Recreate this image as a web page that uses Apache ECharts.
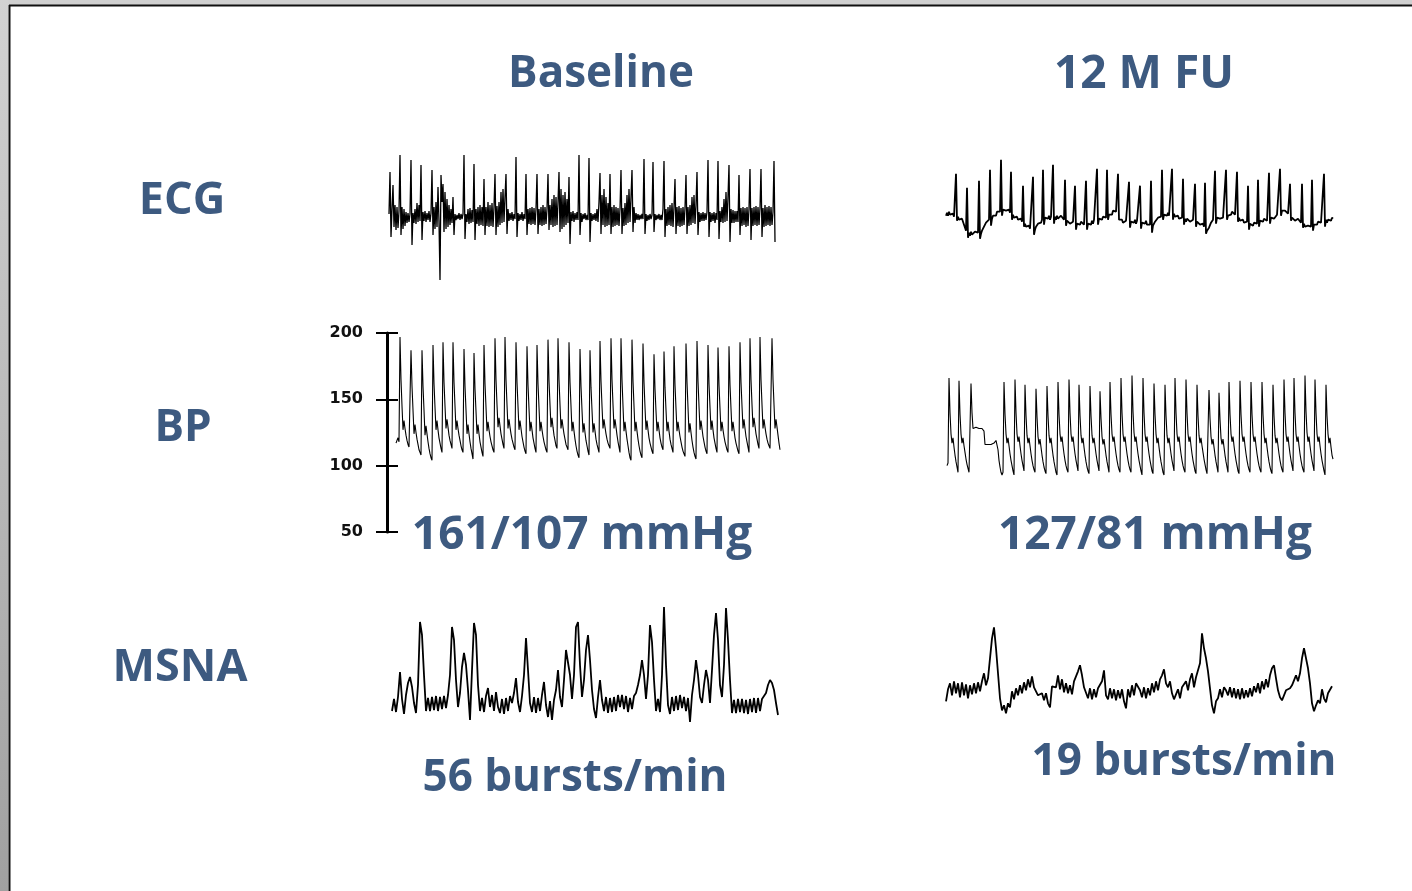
<!DOCTYPE html>
<html>
<head>
<meta charset="utf-8">
<script src="https://cdn.jsdelivr.net/npm/echarts@6/dist/echarts.min.js"></script>
<style>
html, body { margin: 0; padding: 0; background: #fff; }
#main { width: 1412px; height: 891px; }
</style>
</head>
<body>
<div id="main"></div>
<script>
// ECG, baseline / 12 M FU (amplitude, one sample per px)
var ecgBase = [3, 45, -20, 8, 32, -10, 12, -13, 10, -11, 6,
	62, -18, 10, -12, 8, -9, 5, -6, 4, -5, 3,
	57, -28, 4, -6, 8, -7, 14, -5, 12, -4,
	52, -23, 5, -4, 6, -5, 4, -3, 6, -5, 4,
	47, -18, 10, -12, 15, -10, 30, -5,
	-63, 42, 15, 33, -15, 25, -12, 18, -10, 12, -8, 8, -6,
	20, -18, 3, -3, 2, -2, 4, -3, 3, -2, 3,
	62, -22, 3, -5, 8, -7, 9, -6, 7, -5,
	53, -23, 8, -7, 10, -9, 12, -8, 10, -9,
	38, -18, 10, -9, 15, -10, 12, -9, 14, -10, 10,
	43, -18, 11, -10, 15, -8, 25, -6, 28, -5, 20,
	43, -17, 8, -4, 4, -3, 5, -4, 3, -2,
	60, -20, 4, -4, 3, -3, 5, -4, 3, -2,
	43, -18, 8, -7, 9, -8, 10, -7, 9, -8, 8,
	43, -17, 8, -8, 10, -9, 12, -8, 10, -7, 8,
	43, -13, 12, -8, 18, -10, 22, -9, 20, -8, 15,
	45, -15, 28, -12, 22, -10, 25, -8, 18, -6,
	40, -27, 5, -4, 6, -5, 4, -3, 5, -3,
	62, -18, 4, -5, 3, -2, 4, -3, 2, -3,
	59, -25, 4, -4, 3, -3, 4, -4, 8, -5, 15,
	44, -17, 22, -8, 28, -10, 20, -9, 14, -8,
	43, -17, 10, -10, 12, -9, 10, -8, 9, -9, 8,
	47, -17, 9, -9, 14, -8, 22, -6, 28, -5, 20,
	47, -15, 10, -6, 4, -3, 3, -3, 2, -2, 3, -2,
	58, -17, 3, -4, 2, -3, 3, -2, 2,
	55, -15, 3, -3, 2, -2, 3, -3, 2, -3, 8,
	56, -20, 8, -9, 10, -8, 12, -9, 14, -10, 10,
	38, -17, 10, -9, 11, -10, 9, -9, 10, -8, 9,
	42, -17, 10, -9, 12, -8, 20, -6, 22, -7, 12,
	45, -18, 5, -5, 4, -4, 5, -4, 4, -3, 5,
	57, -20, 5, -5, 4, -4, 5, -6, 4, -3,
	56, -22, 6, -5, 10, -6, 18, -5, 25, -4, 20,
	52, -25, 8, -6, 7, -6, 6, -5, 6, -5,
	42, -18, 9, -9, 10, -8, 9, -10, 10, -9, 8,
	48, -23, 9, -9, 10, -8, 11, -9, 10, -8, 9,
	48, -20, 9, -10, 12, -9, 10, -8, 11, -9, 10, -8, 5,
	56, -25];
var ecgFU = [6, 9, 6, 10, 7, 9, 6, 8, 5, 7,
	48, 1, 5, 2, 4, 1, 3, 0, -3, -6, -9,
	34, -16, -11, -14, -10, -13, -11, -14, -10, -12, -9, -11,
	41, -17, -12, -9, -7, -5, -3, -1, 1, -2, 2,
	52, -4, 3, 6, 4, 8, 6, 10, 8, 12, 10,
	62, 6, 12, 10, 14, 11, 13, 10, 12, 9,
	50, 2, 7, 4, 6, 3, 5, 2, 4, 1, 3, 0,
	36, -5, -2, -5, -3, -6, -4, -7, -5, -8,
	45, -13, -8, -5, -6, -2, -3, 0, -1, 2,
	52, -3, 4, 2, 5, 3, 6, 2, 5, 3,
	57, -2, 5, 2, 6, 3, 5, 2, 6, 4, 5, 2,
	42, -4, 1, -1, 2, -2, 0, -3, 0, -2,
	36, -8, -2, -4, -1, -3, 0, -2, 1, -3, -1,
	41, -8, -2, -4, -1, -3, 1, -2, 2, 0, 3,
	53, -3, 3, 1, 4, 2, 5, 3, 6, 4,
	52, 2, 7, 5, 9, 7, 11, 9, 12, 10, 11,
	48, 2, 3, 0, 2, -1, 1, -2, 1, -1, 1,
	40, -6, 0, -2, 1, -1, 2, -2, 1, -1, 0,
	36, -7, -1, -3, 0, -2, 1, -3, -1, -4, -3,
	41, -11, -4, -2, 0, 2, 1, 4, 3, 6, 5,
	52, 2, 7, 5, 8, 6, 9, 6, 8, 5,
	53, 2, 8, 5, 7, 4, 6, 3, 5, 2, 4,
	43, -3, 3, 0, 3, 1, 3, 0, 2, -1, 2, 0,
	38, -5, 0, -2, 1, -3, -1, -4, -2, -5,
	39, -12, -9, -11, -6, -4, -1, 0, 2, 1,
	51, -2, 4, 2, 5, 3, 5, 2, 4, 3, 5,
	52, 2, 6, 5, 8, 7, 10, 8, 9, 7, 6,
	50, 0, 4, 1, 3, 1, 2, -1, 1, -2, 0,
	36, -8, -2, -4, -2, -4, -1, -3, 0, -2,
	42, -5, 1, -1, 2, 0, 3, 1, 3, 1, 2,
	49, -2, 4, 2, 5, 3, 5, 4, 7, 6, 9,
	53, 6, 11, 9, 13, 11, 12, 9, 8, 6,
	38, 1, 4, 2, 4, 1, 3, 0, 3, 1, 2, -1,
	38, -6, -2, -5, -3, -6, -4, -6, -3, -5,
	42, -9, -3, -5, -2, -3, 0, -2, 1, -1, 1, -1,
	48, -5, 2, -1, 2, 0, 3, 1, 4, 3];

// BP in mmHg (one sample per px)
var bpBase = [117, 117, 121, 118,
	197, 165, 145, 127, 134, 128, 123, 119, 116, 114, 113,
	187, 160, 142, 124, 131, 125, 120, 116, 112, 110, 108,
	187, 160, 142, 123, 130, 124, 118, 113, 109, 106, 104,
	191, 162, 144, 127, 134, 127, 121, 117, 113, 110,
	193, 163, 145, 128, 135, 129, 123, 119, 116, 113,
	193, 163, 145, 127, 134, 128, 123, 119, 115, 112, 110,
	188, 160, 142, 124, 131, 124, 118, 113, 109, 105,
	185, 158, 141, 124, 131, 124, 118, 114, 110, 107,
	191, 162, 144, 126, 133, 127, 122, 118, 115, 112, 110,
	196, 165, 146, 129, 136, 130, 124, 120, 116, 113,
	197, 165, 146, 128, 135, 129, 124, 120, 117, 114, 112,
	193, 163, 145, 127, 134, 128, 122, 118, 114, 111, 109,
	190, 161, 143, 126, 133, 127, 121, 117, 113, 110,
	191, 162, 144, 126, 133, 127, 122, 118, 115, 112, 110,
	195, 164, 146, 129, 136, 129, 123, 119, 115, 113,
	196, 165, 146, 128, 135, 129, 124, 120, 116, 114, 112,
	193, 163, 145, 126, 133, 126, 120, 115, 111, 108, 106,
	188, 160, 142, 125, 132, 125, 119, 115, 111, 108,
	187, 159, 142, 125, 132, 126, 120, 116, 113, 110,
	194, 164, 145, 128, 135, 129, 124, 120, 117, 115, 113,
	196, 165, 146, 128, 135, 129, 123, 118, 114, 110,
	196, 165, 145, 126, 133, 126, 120, 115, 110, 106, 104,
	195, 164, 145, 126, 133, 126, 120, 115, 111, 108, 106,
	192, 163, 144, 127, 134, 127, 121, 117, 114, 111, 109,
	184, 158, 141, 126, 133, 127, 121, 117, 114, 112,
	186, 159, 142, 126, 133, 126, 120, 116, 113, 110,
	190, 161, 143, 126, 133, 127, 122, 118, 114, 111, 109, 107,
	192, 163, 144, 125, 132, 125, 119, 114, 110, 107, 105,
	194, 164, 145, 127, 134, 128, 122, 118, 114, 111, 109,
	191, 162, 144, 127, 134, 127, 121, 117, 113, 110,
	189, 161, 143, 126, 133, 127, 122, 118, 115, 112, 110,
	190, 161, 143, 126, 133, 127, 121, 117, 114, 111, 109,
	193, 163, 145, 128, 135, 128, 122, 118, 114, 110,
	196, 165, 146, 129, 136, 130, 124, 120, 116, 113,
	197, 165, 146, 128, 135, 129, 124, 120, 117, 115, 113, 112,
	196, 165, 146, 128, 135, 129, 123, 117, 112];
var bpFU = [100, 102,
	166, 140, 124, 117, 121, 114, 108, 103, 99, 95,
	164, 139, 124, 117, 121, 115, 110, 105, 101, 98, 95, 94,
	162, 140, 128, 129, 128, 129, 128, 129, 128, 129, 128, 128, 127, 126,
	116, 116, 117, 116, 116, 115, 116, 116, 117, 117, 118, 119, 118, 112, 104, 99, 95, 93, 95,
	163, 139, 124, 117, 121, 115, 109, 104, 100, 96, 93,
	165, 140, 124, 118, 122, 115, 109, 104, 100, 96,
	161, 138, 123, 117, 121, 115, 109, 104, 100, 97, 95,
	158, 137, 122, 116, 120, 114, 108, 103, 99, 96, 94,
	160, 138, 123, 117, 121, 114, 108, 103, 99, 95, 93,
	163, 139, 124, 118, 122, 115, 109, 104, 100, 97, 95,
	165, 140, 124, 118, 122, 115, 109, 104, 100, 96,
	161, 138, 123, 117, 121, 114, 108, 103, 99, 96, 94,
	160, 138, 123, 117, 121, 115, 109, 104, 100, 96,
	156, 136, 122, 116, 120, 114, 108, 103, 99, 95,
	163, 139, 124, 118, 122, 115, 109, 104, 100, 97, 95,
	166, 140, 124, 118, 122, 115, 109, 104, 100, 97, 95,
	168, 141, 125, 118, 122, 115, 109, 104, 100, 96, 93,
	166, 140, 124, 118, 122, 115, 109, 104, 100, 96, 94,
	162, 139, 124, 117, 121, 114, 108, 103, 99, 95, 93,
	161, 138, 123, 117, 121, 115, 109, 104, 100, 96,
	166, 140, 124, 118, 122, 115, 109, 104, 100, 97, 95,
	165, 140, 124, 118, 122, 115, 109, 104, 100, 96, 94,
	161, 138, 123, 117, 121, 115, 110, 105, 101, 97, 94, 93,
	157, 136, 122, 116, 120, 114, 108, 103, 99, 95,
	155, 135, 121, 116, 120, 114, 108, 103, 99, 95,
	163, 139, 124, 118, 122, 115, 109, 104, 100, 96, 94,
	164, 139, 124, 118, 122, 115, 109, 104, 100, 97, 95,
	163, 139, 124, 118, 122, 115, 109, 104, 100, 97, 95,
	163, 139, 124, 117, 121, 114, 108, 103, 99, 96, 94,
	161, 138, 123, 117, 121, 115, 109, 104, 100, 97, 95,
	165, 140, 124, 118, 122, 115, 109, 104, 100, 96,
	166, 140, 124, 118, 122, 115, 109, 104, 100, 97, 95,
	168, 141, 125, 118, 122, 115, 109, 104, 100, 96,
	165, 140, 124, 118, 122, 115, 109, 104, 100, 96, 93,
	161, 138, 124, 117, 121, 114, 108, 105];
var bpTicks = [50, 100, 150, 200];

// MSNA (amplitude, one sample per 2 px)
var msnaBase = [-6, 6, -7, 8, 33, 6, -9, 10, 22, 28,
	18, 2, -8, 20, 83, 70, 30, -6, 7, -6,
	8, -5, 9, -6, 8, -4, 9, -3, 10, 30,
	78, 65, 25, -2, 12, 38, 52, 40, 15, -15,
	35, 82, 70, 20, -6, 7, -7, 9, 17, -2,
	10, -6, 13, -2, -8, 6, -9, 7, -6, 9,
	2, 12, 27, 3, -7, 9, 30, 67, 35, 2,
	-7, 8, -8, 7, -6, 10, 23, 0, -12, 4,
	-15, 5, 15, 35, 8, -2, 25, 55, 57, 30,
	6, 30, 78, 83, 40, 8, 25, 55, 70, 45,
	15, -4, -13, 8, 25, 5, -6, 8, -8, 7,
	-7, 8, -6, 10, -2, 10, -4, 9, -7, 7,
	-4, 9, 12, 20, 30, 45, 30, 6, 30, 80,
	63, 25, -6, 6, -7, 30, 98, 40, 0, -9,
	8, -6, 9, -5, 10, -3, 8, -6, 7, -17,
	10, 25, 45, 30, 8, 2, 20, 35, 25, 2,
	35, 70, 92, 65, 20, 8, 40, 97, 65, 25,
	-8, 5, -8, 6, -7, 6, -8, 5, -9, 6,
	-7, 7, -8, 7, -6, 6, 8, 12, 20, 25,
	22, 15, 2, -10];
var msnaFU = [-8, 4, 10, -2, 12, 0, 10, -4, 11, -2,
	9, -5, 8, -1, 10, 0, 11, 2, 12, 20,
	8, 15, 35, 55, 66, 45, 20, -5, -17, -12,
	-20, -10, -14, 2, -6, 5, -2, 8, 0, 11,
	3, 14, 6, 17, 6, 6, -2, -1, 0, -7,
	0, -10, -14, 7, 8, 6, 18, 4, 14, 1,
	10, 0, 8, -1, 12, 14, 22, 28, 18, 6,
	4, -5, 5, -6, 4, -4, 5, 3, 12, 23,
	-2, -6, 5, -5, 4, -7, 3, -5, 4, -8,
	-15, 4, -4, 8, -2, 10, 12, 3, -4, 6,
	-5, 5, -2, 10, 1, 12, 3, 14, 18, 24,
	10, 6, 12, 0, -6, -8, 4, -5, 6, 4,
	12, 3, 14, 20, 6, 16, 18, 30, 60, 45,
	35, 22, 5, -12, -20, -8, -5, 4, -4, 6,
	3, -2, 6, -4, 5, -5, 4, -6, 5, -5,
	3, -4, 5, -3, 7, 1, 10, 0, 12, 4,
	14, 6, 18, 25, 28, 15, 3, -4, -7, -5,
	3, 4, 5, 8, 10, 18, 12, 20, 35, 45,
	46, 25, 10, -10, -18, -12, -7, -10, 4, -5,
	-9, 0, 1, 7];

var textColor = '#3d5a80';

var myChart = echarts.init(document.getElementById('main'));

// one panel per trace
var panels = [
	{ data: ecgBase, left: 389, width: 386, top: 150, height: 135, min: -68, max: 67, lw: 1.3 },
	{ data: ecgFU, left: 946, width: 387, top: 155, height: 100, min: -33.3, max: 66.7, lw: 1.8 },
	{ data: bpBase, left: 396, width: 384, top: 333, height: 199, min: 50, max: 200, lw: 1.1 },
	{ data: bpFU, left: 947, width: 386, top: 333, height: 199, min: 50, max: 200, lw: 1.1 },
	{ data: msnaBase, left: 392, width: 386, top: 600, height: 125, min: -20, max: 105, lw: 1.8 },
	{ data: msnaFU, left: 946, width: 386, top: 620, height: 100, min: -26.7, max: 73.3, lw: 1.8 }
];

var grids = [], xAxes = [], yAxes = [], series = [];
panels.forEach(function(p, k) {
	grids.push({ left: p.left, top: p.top, width: p.width, height: p.height });
	xAxes.push({ gridIndex: k, type: 'value', min: 0, max: p.data.length - 1, show: false });
	yAxes.push({ gridIndex: k, type: 'value', min: p.min, max: p.max, show: false });
	series.push({
		type: 'line',
		xAxisIndex: k,
		yAxisIndex: k,
		data: p.data.map(function(v, i) { return [i, v]; }),
		symbol: 'none',
		sampling: null,
		silent: true,
		lineStyle: { color: '#000', width: p.lw }
	});
});

// BP scale 50-200, ticks crossing the axis line
yAxes.push({
	gridIndex: 2, type: 'value', min: 50, max: 200, interval: 50,
	position: 'left', offset: 9,
	axisLine: { show: true, lineStyle: { color: '#000', width: 3 } },
	axisTick: { show: true, length: 11, lineStyle: { color: '#000', width: 2 } },
	axisLabel: {
		show: true, margin: 24, color: '#111', fontFamily: 'DejaVu Sans',
		fontWeight: 'bold', fontSize: 16,
		formatter: function(v) { return bpTicks.indexOf(v) >= 0 ? String(v) : ''; }
	},
	splitLine: { show: false }
});
yAxes.push({
	gridIndex: 2, type: 'value', min: 50, max: 200, interval: 50,
	position: 'left', offset: 9,
	axisLine: { show: false },
	axisTick: { show: true, inside: true, length: 11, lineStyle: { color: '#000', width: 2 } },
	axisLabel: { show: false },
	splitLine: { show: false }
});

function label(text, x, y, size) {
	return {
		type: 'text', x: x, y: y, silent: true,
		style: {
			text: text, fill: textColor, align: 'center', verticalAlign: 'middle',
			fontFamily: 'Open Sans', fontWeight: 'bold', fontSize: size
		}
	};
}

var option = {
	backgroundColor: '#fff',
	animation: false,
	grid: grids,
	xAxis: xAxes,
	yAxis: yAxes,
	series: series,
	graphic: [
		// window frame
		{ type: 'rect', shape: { x: 0, y: 0, width: 1412, height: 5 }, style: { fill: '#d0d0d0' } },
		{
			type: 'rect', shape: { x: 0, y: 0, width: 8.5, height: 891 },
			style: { fill: new echarts.graphic.LinearGradient(0, 0, 0, 1, [
				{ offset: 0, color: '#d2d2d2' }, { offset: 1, color: '#a0a0a0' }]) }
		},
		{ type: 'line', shape: { x1: 9, y1: 5.5, x2: 1412, y2: 5.5 }, style: { stroke: '#111', lineWidth: 2 } },
		{ type: 'line', shape: { x1: 9.5, y1: 5, x2: 9.5, y2: 891 }, style: { stroke: '#111', lineWidth: 2 } },
		label('Baseline', 601, 74.5, 44),
		label('12 M FU', 1144, 74.5, 46),
		label('ECG', 182, 201, 45),
		label('BP', 183, 428, 44),
		label('MSNA', 180, 668, 45),
		label('161/107 mmHg', 582, 535.5, 46),
		label('127/81 mmHg', 1155, 535.5, 46),
		label('56 bursts/min', 575, 778, 44),
		label('19 bursts/min', 1184, 762, 44)
	]
};
myChart.setOption(option);
</script>
</body>
</html>
